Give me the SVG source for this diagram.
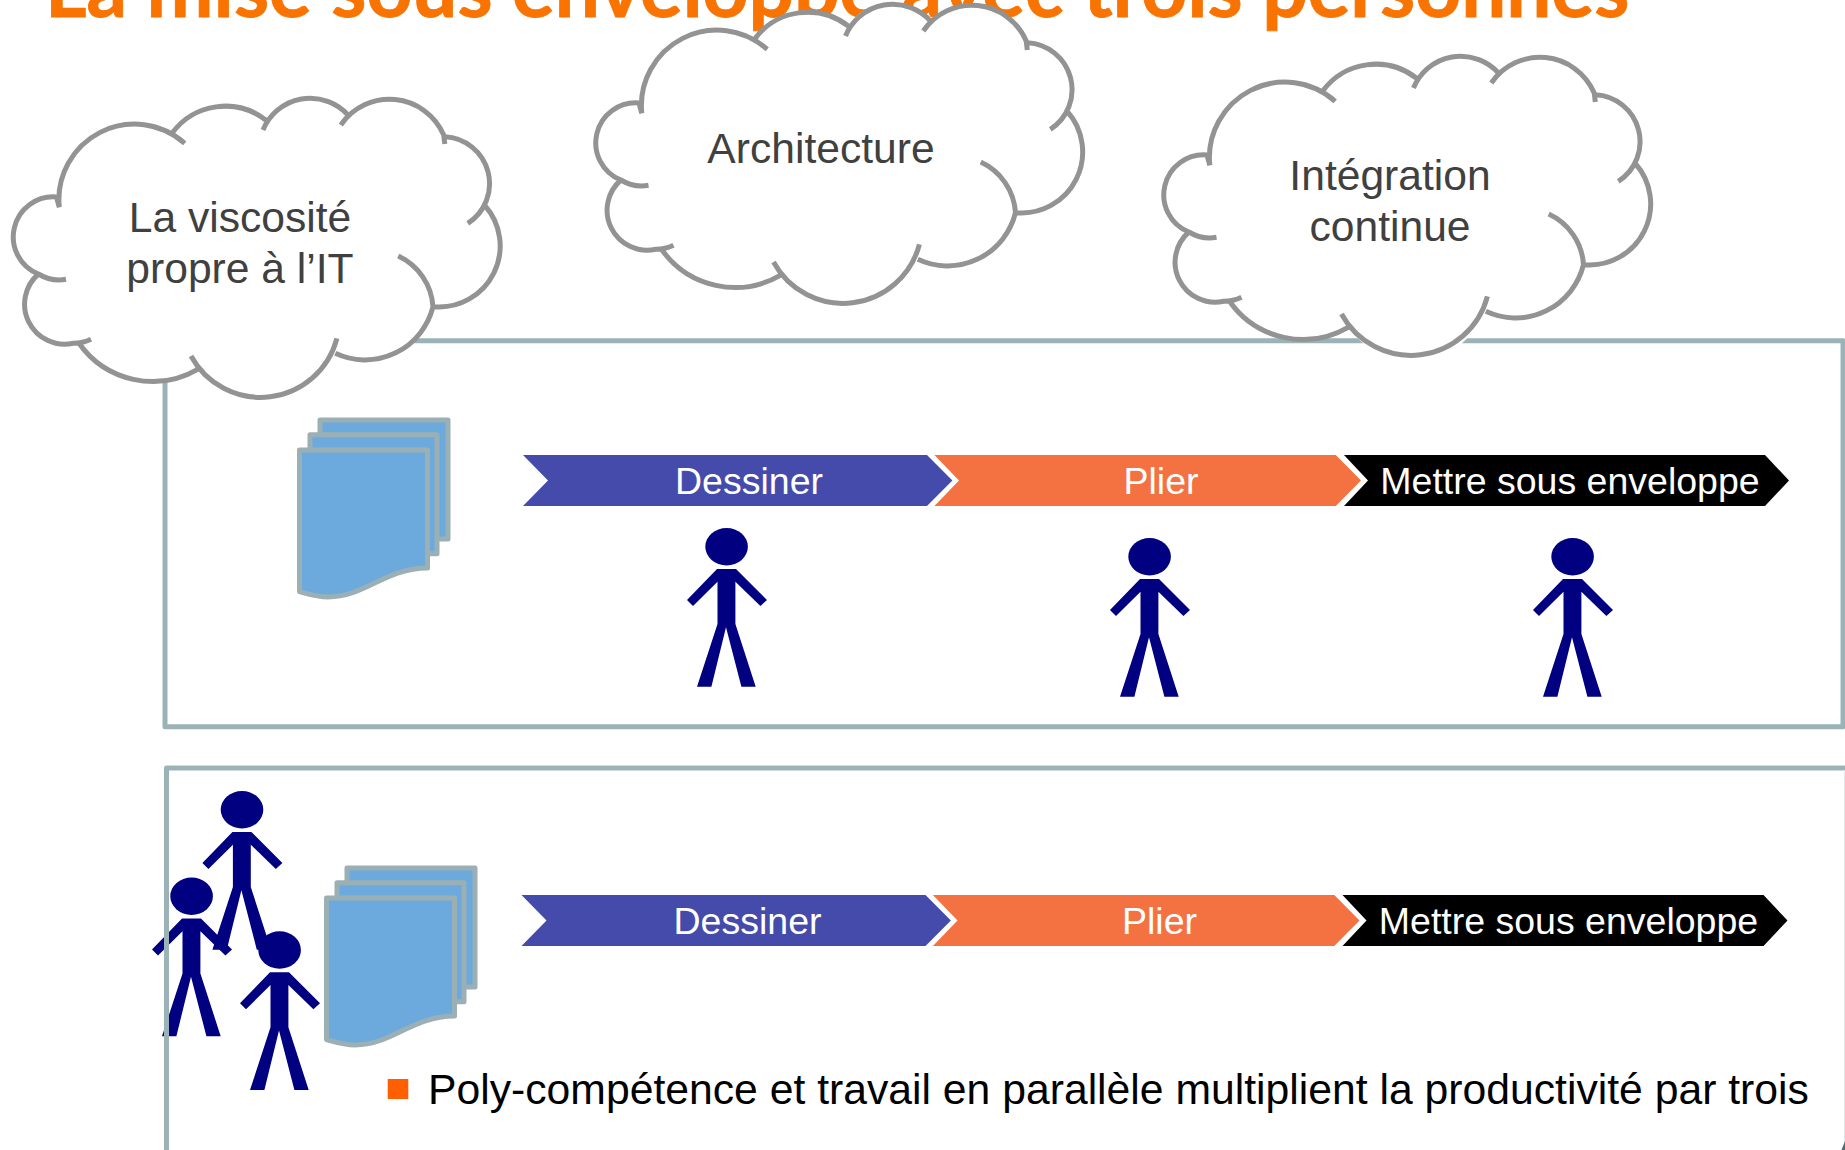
<svg xmlns="http://www.w3.org/2000/svg" xmlns:xlink="http://www.w3.org/1999/xlink" width="1845" height="1150" viewBox="0 0 1845 1150">
<style>
text{font-family:"Liberation Sans",Arial,sans-serif}
.title{font-family:Lato,"Open Sans",sans-serif;font-weight:700;font-size:80px;fill:#f97300;stroke:#f97300;stroke-width:.8}
.box{fill:none;stroke:#9bb3b6;stroke-width:5;stroke-linejoin:round}
.cloudfill{fill:#fff;stroke:none}
.cloudline{fill:none;stroke:#939393;stroke-width:5}
.cloudtext{font-size:42.6px;fill:#404040;text-anchor:middle}
.doc{fill:#6ca9dc;stroke:#9ab0b4;stroke-width:5;stroke-linejoin:round}
.step{font-size:37.5px;fill:#fff;text-anchor:middle}
.person{fill:#000080}
.blue{fill:#444baa}.orange{fill:#f47241}.black{fill:#000}
.bullet{fill:#ff5f00}
.note{font-size:42.7px;fill:#000}
</style>
<defs>
<g id="cloud">
<path class="cloudfill" d="M56.5,197 A40,40 0 0 0 38.4,274 A40,40 0 0 0 79,343.3 A90,90 0 0 0 197.7,369.3 A79,79 0 0 0 335.3,353.3 A70,70 0 0 0 433.8,306.7 A61,61 0 0 0 484.4,205 A47,47 0 0 0 443.7,135 A59,59 0 0 0 348,115 A51,51 0 0 0 265.7,120 A66,66 0 0 0 172,133.3 A75.5,75.5 0 0 0 56.5,197 Z"/>
<path class="cloudline" d="M59.3,207.3 L56.5,197 A40,40 0 0 0 38.4,274 A40,40 0 0 0 66,279.3 M38.4,274 A40,40 0 0 0 73.2,343.3 A40,40 0 0 0 91,339.3 M79,343.3 A90,90 0 0 0 197.7,369.3 M191,356 A79,79 0 0 0 336.9,338.3 M335.3,353.3 A70,70 0 0 0 433,306.7 A60,60 0 0 0 398.2,256 M433.8,306.7 A61,61 0 0 0 484.4,205 M467.8,223.3 A47,47 0 0 0 444.8,136.7 M444.8,144 L443.7,135 A59,59 0 0 0 340.8,125 M348,115 A51,51 0 0 0 263,130 M265.7,120 A66,66 0 0 0 172,133.3 M184.7,143.3 A75.5,75.5 0 0 0 59.3,207.3"/>
</g>
<polygon id="stick" points="717,569 736,569 767,600 760.4,606 735.4,581.7 735.4,624 755.7,686.7 741.4,686.7 726,627.3 711.4,686.7 697,686.7 717.5,624 717.5,581.7 693,606 687,600"/>
<g id="stack">
<rect class="doc" x="320" y="420" width="128" height="119"/>
<rect class="doc" x="310" y="434.7" width="127" height="119"/>
<path class="doc" d="M299.5,450 H427.5 V568 C385,568 365,597 328,597 C317,597 308,594 299.5,591.7 Z"/>
</g>
<g id="process">
<polygon class="blue" points="523,455 927,455 952.4,480.5 927,506 523,506 548,480.5"/>
<polygon class="orange" points="934.4,455 1335.8,455 1361,480.5 1335.8,506 934.4,506 959,480.5"/>
<polygon class="black" points="1344,455 1765,455 1789,480.5 1765,506 1344,506 1368,480.5"/>
<text class="step" x="749" y="493.8">Dessiner</text>
<text class="step" x="1161" y="493.8">Plier</text>
<text class="step" x="1570" y="493.8">Mettre sous enveloppe</text>
</g>
</defs>
<text id="title" class="title" x="45" y="17">La mise sous enveloppe avec trois personnes</text>
<g id="box-sequential">
<rect class="box" x="165" y="340.7" width="1678" height="386"/>
</g>
<g id="cloud-viscosite">
<use href="#cloud"/>
<text class="cloudtext" x="240" y="232">La viscosité</text>
<text class="cloudtext" x="240" y="283">propre à l’IT</text>
</g>
<g id="cloud-architecture">
<use href="#cloud" transform="translate(582.5,-94)"/>
<text class="cloudtext" x="821" y="163">Architecture</text>
</g>
<g id="cloud-integration">
<use href="#cloud" transform="translate(1150.5,-42)"/>
<text class="cloudtext" x="1390" y="190">Intégration</text>
<text class="cloudtext" x="1390" y="241">continue</text>
</g>
<g id="docs-sequential"><use href="#stack"/></g>
<g id="process-sequential"><use href="#process"/></g>
<g id="person-dessiner"><ellipse class="person" cx="726.6" cy="546.7" rx="21.3" ry="18.7"/><use class="person" href="#stick"/></g>
<g id="person-plier" transform="translate(423,10)"><ellipse class="person" cx="726.6" cy="546.7" rx="21.3" ry="18.7"/><use class="person" href="#stick"/></g>
<g id="person-mettre" transform="translate(846,10)"><ellipse class="person" cx="726.6" cy="546.7" rx="21.3" ry="18.7"/><use class="person" href="#stick"/></g>
<g id="person-team-top" transform="translate(-484.6,263)"><ellipse class="person" cx="726.6" cy="546.7" rx="21.3" ry="18.7"/><use class="person" href="#stick"/></g>
<g id="person-team-left" transform="translate(-535,349.5)"><ellipse class="person" cx="726.6" cy="546.7" rx="21.3" ry="18.7"/><use class="person" href="#stick"/></g>
<g id="person-team-right" transform="translate(-447,403.3)"><ellipse class="person" cx="726.6" cy="546.7" rx="21.3" ry="18.7"/><use class="person" href="#stick"/></g>
<g id="box-parallel">
<rect class="box" x="166.5" y="768" width="1690" height="400"/>
<path d="M1844.5,770 V1150" fill="none" stroke="#dfe7e8" stroke-width="1"/>
<polygon points="1845,1141 1845,1150 1841.5,1150" fill="#4d6a78"/>
</g>
<g id="docs-parallel"><use href="#stack" transform="translate(27,448)"/></g>
<g id="process-parallel"><use href="#process" transform="translate(-1.5,440)"/></g>
<g id="note">
<rect class="bullet" x="387.7" y="1079" width="20.6" height="20"/>
<text class="note" x="428" y="1103.7">Poly-compétence et travail en parallèle multiplient la productivité par trois</text>
</g>
</svg>
